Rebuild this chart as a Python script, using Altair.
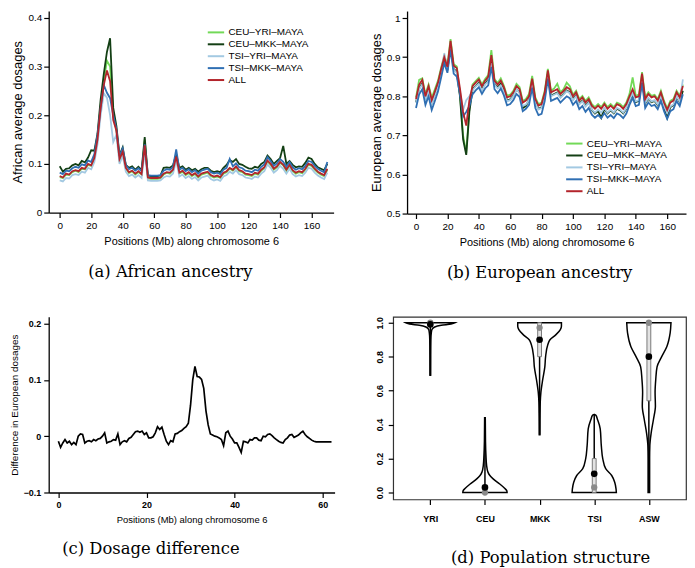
import altair as alt
import pandas as pd

# ---------------- data ----------------
SERIES = ["CEU–YRI–MAYA", "CEU–MKK–MAYA", "TSI–YRI–MAYA", "TSI–MKK–MAYA", "ALL"]
COLORS = ["#72d957", "#133f14", "#a3c9e2", "#2f6fb3", "#b3242b"]

POS_AB = list(range(0, 171, 2))

afr_ceu_yri = [0.073, 0.071, 0.078, 0.077, 0.083, 0.086, 0.083, 0.090, 0.089, 0.098,
               0.096, 0.110, 0.152, 0.220, 0.270, 0.312, 0.300, 0.200, 0.170, 0.108,
               0.122, 0.090, 0.081, 0.085, 0.078, 0.083, 0.078, 0.150, 0.070, 0.069,
               0.069, 0.069, 0.070, 0.078, 0.082, 0.080, 0.086, 0.112, 0.080, 0.084,
               0.077, 0.081, 0.075, 0.079, 0.072, 0.078, 0.080, 0.082, 0.075, 0.072,
               0.074, 0.071, 0.080, 0.083, 0.090, 0.086, 0.093, 0.085, 0.083, 0.078,
               0.077, 0.075, 0.080, 0.078, 0.086, 0.091, 0.105, 0.098, 0.088, 0.093,
               0.102, 0.097, 0.086, 0.096, 0.085, 0.080, 0.083, 0.081, 0.088, 0.098,
               0.096, 0.088, 0.082, 0.078, 0.075, 0.088]
afr_ceu_mkk = [0.095, 0.084, 0.090, 0.091, 0.097, 0.100, 0.097, 0.106, 0.103, 0.113,
               0.128, 0.127, 0.162, 0.232, 0.285, 0.330, 0.358, 0.215, 0.178, 0.118,
               0.134, 0.098, 0.092, 0.095, 0.088, 0.094, 0.087, 0.155, 0.076, 0.075,
               0.075, 0.075, 0.076, 0.092, 0.093, 0.092, 0.097, 0.120, 0.092, 0.095,
               0.088, 0.092, 0.087, 0.090, 0.084, 0.089, 0.092, 0.092, 0.086, 0.083,
               0.085, 0.083, 0.092, 0.098, 0.108, 0.104, 0.110, 0.100, 0.098, 0.094,
               0.091, 0.090, 0.094, 0.092, 0.100, 0.104, 0.117, 0.110, 0.100, 0.106,
               0.112, 0.137, 0.100, 0.106, 0.098, 0.093, 0.095, 0.094, 0.102, 0.113,
               0.110, 0.100, 0.093, 0.090, 0.087, 0.100]
afr_tsi_yri = [0.066, 0.064, 0.071, 0.070, 0.077, 0.079, 0.077, 0.084, 0.082, 0.092,
               0.089, 0.104, 0.140, 0.200, 0.245, 0.236, 0.200, 0.145, 0.160, 0.100,
               0.117, 0.084, 0.075, 0.078, 0.072, 0.077, 0.071, 0.125, 0.066, 0.065,
               0.065, 0.065, 0.066, 0.072, 0.075, 0.074, 0.080, 0.108, 0.074, 0.078,
               0.071, 0.075, 0.069, 0.073, 0.066, 0.072, 0.074, 0.076, 0.069, 0.066,
               0.068, 0.065, 0.074, 0.077, 0.084, 0.080, 0.087, 0.079, 0.077, 0.072,
               0.071, 0.069, 0.074, 0.072, 0.080, 0.085, 0.099, 0.092, 0.082, 0.087,
               0.096, 0.090, 0.080, 0.090, 0.079, 0.074, 0.077, 0.075, 0.082, 0.092,
               0.090, 0.082, 0.076, 0.072, 0.069, 0.082]
afr_tsi_mkk = [0.082, 0.079, 0.086, 0.085, 0.091, 0.094, 0.092, 0.099, 0.097, 0.107,
               0.104, 0.120, 0.160, 0.215, 0.262, 0.246, 0.235, 0.200, 0.172, 0.116,
               0.132, 0.098, 0.089, 0.092, 0.086, 0.091, 0.085, 0.140, 0.077, 0.076,
               0.076, 0.076, 0.077, 0.086, 0.089, 0.088, 0.094, 0.130, 0.088, 0.092,
               0.085, 0.089, 0.083, 0.087, 0.080, 0.086, 0.088, 0.090, 0.083, 0.080,
               0.082, 0.079, 0.088, 0.092, 0.110, 0.095, 0.101, 0.093, 0.091, 0.086,
               0.085, 0.083, 0.088, 0.086, 0.094, 0.099, 0.114, 0.106, 0.096, 0.101,
               0.110, 0.104, 0.094, 0.104, 0.093, 0.088, 0.091, 0.089, 0.096, 0.106,
               0.104, 0.096, 0.090, 0.086, 0.083, 0.104]
afr_all = [0.075, 0.072, 0.080, 0.078, 0.085, 0.087, 0.085, 0.092, 0.090, 0.100,
           0.097, 0.112, 0.150, 0.215, 0.262, 0.292, 0.270, 0.190, 0.168, 0.110,
           0.125, 0.092, 0.083, 0.086, 0.080, 0.085, 0.079, 0.138, 0.072, 0.071,
           0.071, 0.071, 0.072, 0.080, 0.083, 0.082, 0.088, 0.115, 0.082, 0.086,
           0.079, 0.083, 0.077, 0.081, 0.074, 0.080, 0.082, 0.084, 0.077, 0.074,
           0.076, 0.073, 0.082, 0.085, 0.092, 0.088, 0.095, 0.087, 0.085, 0.080,
           0.079, 0.077, 0.082, 0.080, 0.088, 0.093, 0.107, 0.100, 0.090, 0.095,
           0.104, 0.098, 0.088, 0.098, 0.087, 0.082, 0.085, 0.083, 0.090, 0.100,
           0.098, 0.090, 0.084, 0.080, 0.077, 0.090]

eur_ceu_yri = [0.797, 0.842, 0.846, 0.805, 0.830, 0.796, 0.818, 0.840, 0.873, 0.904,
               0.879, 0.946, 0.882, 0.876, 0.805, 0.700, 0.655, 0.770, 0.830, 0.839,
               0.847, 0.830, 0.844, 0.854, 0.918, 0.844, 0.834, 0.846, 0.827, 0.801,
               0.804, 0.814, 0.832, 0.823, 0.788, 0.793, 0.806, 0.852, 0.797, 0.780,
               0.784, 0.814, 0.870, 0.814, 0.820, 0.832, 0.810, 0.818, 0.835, 0.826,
               0.804, 0.814, 0.793, 0.801, 0.788, 0.797, 0.780, 0.772, 0.780, 0.772,
               0.784, 0.772, 0.780, 0.772, 0.784, 0.780, 0.772, 0.784, 0.806, 0.848,
               0.801, 0.804, 0.862, 0.797, 0.810, 0.801, 0.804, 0.793, 0.814, 0.788,
               0.769, 0.788, 0.793, 0.814, 0.801, 0.830]
eur_ceu_mkk = [0.785, 0.820, 0.833, 0.792, 0.818, 0.782, 0.804, 0.826, 0.860, 0.892,
               0.866, 0.930, 0.870, 0.862, 0.800, 0.690, 0.650, 0.760, 0.818, 0.826,
               0.835, 0.818, 0.832, 0.842, 0.895, 0.832, 0.822, 0.832, 0.815, 0.789,
               0.792, 0.802, 0.818, 0.810, 0.770, 0.775, 0.792, 0.837, 0.785, 0.768,
               0.772, 0.802, 0.858, 0.802, 0.806, 0.810, 0.798, 0.806, 0.815, 0.810,
               0.792, 0.802, 0.781, 0.789, 0.776, 0.785, 0.765, 0.756, 0.762, 0.745,
               0.768, 0.756, 0.764, 0.756, 0.768, 0.764, 0.756, 0.768, 0.788, 0.806,
               0.785, 0.788, 0.846, 0.781, 0.794, 0.785, 0.788, 0.777, 0.798, 0.768,
               0.745, 0.772, 0.777, 0.798, 0.785, 0.814]
eur_tsi_yri = [0.783, 0.818, 0.830, 0.790, 0.815, 0.780, 0.802, 0.825, 0.858, 0.910,
               0.868, 0.925, 0.868, 0.860, 0.812, 0.765, 0.790, 0.800, 0.815, 0.825,
               0.832, 0.815, 0.830, 0.838, 0.885, 0.830, 0.820, 0.828, 0.812, 0.787,
               0.790, 0.800, 0.818, 0.808, 0.775, 0.779, 0.790, 0.835, 0.783, 0.766,
               0.770, 0.800, 0.856, 0.800, 0.804, 0.808, 0.796, 0.804, 0.813, 0.808,
               0.790, 0.800, 0.779, 0.787, 0.774, 0.783, 0.766, 0.758, 0.766, 0.758,
               0.770, 0.758, 0.766, 0.758, 0.770, 0.766, 0.758, 0.770, 0.790, 0.808,
               0.787, 0.790, 0.845, 0.783, 0.796, 0.787, 0.790, 0.779, 0.800, 0.774,
               0.758, 0.774, 0.779, 0.800, 0.787, 0.843]
eur_tsi_mkk = [0.770, 0.805, 0.818, 0.778, 0.800, 0.765, 0.788, 0.812, 0.848, 0.885,
               0.860, 0.920, 0.858, 0.850, 0.805, 0.748, 0.760, 0.775, 0.805, 0.815,
               0.823, 0.806, 0.820, 0.828, 0.875, 0.818, 0.808, 0.820, 0.802, 0.777,
               0.780, 0.790, 0.806, 0.798, 0.762, 0.768, 0.778, 0.822, 0.770, 0.752,
               0.755, 0.788, 0.845, 0.788, 0.792, 0.796, 0.784, 0.792, 0.800, 0.795,
               0.778, 0.788, 0.767, 0.775, 0.760, 0.770, 0.753, 0.745, 0.752, 0.744,
               0.757, 0.745, 0.752, 0.744, 0.756, 0.752, 0.744, 0.756, 0.778, 0.796,
               0.775, 0.778, 0.835, 0.770, 0.784, 0.775, 0.778, 0.767, 0.788, 0.762,
               0.742, 0.762, 0.767, 0.788, 0.775, 0.805]
eur_all = [0.793, 0.830, 0.842, 0.800, 0.826, 0.790, 0.812, 0.835, 0.869, 0.900,
           0.875, 0.942, 0.878, 0.872, 0.820, 0.760, 0.725, 0.790, 0.826, 0.835,
           0.843, 0.826, 0.840, 0.850, 0.905, 0.840, 0.830, 0.840, 0.823, 0.797,
           0.800, 0.810, 0.826, 0.818, 0.784, 0.789, 0.800, 0.845, 0.793, 0.776,
           0.780, 0.810, 0.866, 0.810, 0.814, 0.818, 0.806, 0.814, 0.823, 0.818,
           0.800, 0.810, 0.789, 0.797, 0.784, 0.793, 0.776, 0.768, 0.776, 0.768,
           0.780, 0.768, 0.776, 0.768, 0.780, 0.776, 0.768, 0.780, 0.800, 0.818,
           0.797, 0.800, 0.858, 0.793, 0.806, 0.797, 0.800, 0.789, 0.810, 0.784,
           0.765, 0.784, 0.789, 0.810, 0.797, 0.826]

POS_DIFF = [i * 0.5 for i in range(125)]
diff_values = [-0.009, -0.020, -0.012, -0.006, -0.012, -0.009, -0.015, -0.011, -0.015, 0.000,
               0.004, 0.003, -0.012, -0.009, -0.008, -0.010, -0.006, -0.008, -0.005, -0.004,
               0.000, 0.006, -0.012, -0.010, -0.009, -0.006, -0.007, 0.004, -0.015, -0.010,
               -0.008, -0.010, -0.004, -0.002, 0.003, 0.008, 0.009, 0.007, 0.009, 0.003,
               0.006, -0.003, -0.003, -0.001, 0.006, 0.017, 0.012, 0.016, 0.003, -0.009,
               -0.015, -0.008, -0.010, 0.004, 0.005, 0.008, 0.010, 0.014, 0.017, 0.023,
               0.055, 0.100, 0.124, 0.106, 0.105, 0.101, 0.085, 0.045, 0.020, 0.004,
               0.002, 0.000, -0.001, -0.003, -0.006, -0.017, 0.006, 0.009, 0.000, -0.005,
               -0.012, -0.012, -0.020, -0.029, -0.009, -0.010, -0.012, -0.006, -0.007, -0.003,
               -0.003, -0.007, -0.008, 0.000, -0.001, 0.003, 0.004, 0.001, -0.003, -0.006,
               -0.009, -0.011, -0.012, -0.006, -0.003, 0.002, 0.003, -0.002, 0.000, 0.002,
               0.006, 0.009, 0.003, -0.001, -0.004, -0.007, -0.009, -0.010, -0.010, -0.010,
               -0.010, -0.010, -0.010, -0.010, -0.010]

POPS = ["YRI", "CEU", "MKK", "TSI", "ASW"]
violin_y = {
    "YRI": [0.69, 0.80, 0.90, 0.94, 0.96, 0.975, 0.985, 0.992, 1.0],
    "CEU": [0.0, 0.01, 0.025, 0.05, 0.08, 0.10, 0.12, 0.16, 0.22, 0.30, 0.44],
    "MKK": [0.34, 0.45, 0.53, 0.59, 0.665, 0.74, 0.80, 0.87, 0.90, 0.93, 0.96, 0.98, 1.0],
    "TSI": [0.0, 0.02, 0.06, 0.10, 0.14, 0.20, 0.275, 0.375, 0.43, 0.455, 0.46],
    "ASW": [0.0, 0.10, 0.20, 0.275, 0.35, 0.43, 0.51, 0.59, 0.665, 0.74, 0.80, 0.86, 0.94, 1.0],
}
violin_halfwidth = {
    "YRI": [0.006, 0.007, 0.010, 0.018, 0.030, 0.080, 0.200, 0.380, 0.456],
    "CEU": [0.405, 0.400, 0.360, 0.270, 0.150, 0.090, 0.055, 0.030, 0.018, 0.010, 0.006],
    "MKK": [0.006, 0.008, 0.012, 0.024, 0.057, 0.096, 0.110, 0.150, 0.190, 0.300, 0.380, 0.400, 0.400],
    "TSI": [0.405, 0.400, 0.375, 0.320, 0.210, 0.156, 0.130, 0.110, 0.060, 0.030, 0.0],
    "ASW": [0.014, 0.014, 0.014, 0.018, 0.042, 0.084, 0.120, 0.114, 0.126, 0.150, 0.235, 0.330, 0.390, 0.405],
}
whisker_lo = [0.69, 0.0, 0.34, 0.0, 0.0]
whisker_hi = [1.0, 0.44, 1.0, 0.46, 1.0]
box_pops = ["MKK", "TSI", "ASW"]
box_lo = [0.80, 0.0, 0.54]
box_hi = [1.0, 0.20, 1.0]
pop_mean = [0.99, 0.03, 0.90, 0.11, 0.80]
pop_median = [1.0, 0.0, 0.97, 0.03, 1.0]

# ---------------- tables ----------------
def long_table(lists):
    rows = []
    for s, vals in zip(SERIES, lists):
        for p, v in zip(POS_AB, vals):
            rows.append({"pos": p, "value": v, "series": s})
    return pd.DataFrame(rows)

afr_df = long_table([afr_ceu_yri, afr_ceu_mkk, afr_tsi_yri, afr_tsi_mkk, afr_all])
eur_df = long_table([eur_ceu_yri, eur_ceu_mkk, eur_tsi_yri, eur_tsi_mkk, eur_all])
diff_df = pd.DataFrame({"pos": POS_DIFF, "value": diff_values})

vrows = []
for i, p in enumerate(POPS):
    for y, hw in zip(violin_y[p], violin_halfwidth[p]):
        vrows.append({"pop": p, "idx": i + 1, "y": y, "hw": hw})
violin_df = pd.DataFrame(vrows)
stat_df = pd.DataFrame({"pop": POPS, "idx": [1, 2, 3, 4, 5], "lo": whisker_lo, "hi": whisker_hi,
                        "mean": pop_mean, "median": pop_median})
box_df = pd.DataFrame({"pop": box_pops, "idx": [POPS.index(p) + 1 for p in box_pops],
                       "lo": box_lo, "hi": box_hi})

SANS = "Liberation Sans"
SERIF = "DejaVu Serif"


def caption(text, dx, offset):
    return alt.TitleParams(text=text, orient="bottom", anchor="middle", font=SERIF, fontSize=16.5,
                           fontWeight="normal", color="black", dx=dx, offset=offset)


def line_panel(df, xdomain, ydomain, yvalues, ytitle, width, height, lx, ly, cap, capdx):
    legend = alt.Legend(orient="none", legendX=lx, legendY=ly, title=None,
                        symbolType="M-1.5,0L1.5,0", symbolSize=121, symbolStrokeWidth=2,
                        labelFont=SANS, labelFontSize=10, labelColor="black",
                        rowPadding=0, labelOffset=6, padding=0)
    xenc = alt.X("pos:Q", scale=alt.Scale(domain=xdomain, nice=False, zero=False),
                 axis=alt.Axis(values=list(range(0, 161, 20)), title="Positions (Mb) along chromosome 6",
                               titleFontSize=11, labelFontSize=10, labelPadding=3, titlePadding=5, tickSize=5))
    yenc = alt.Y("value:Q", scale=alt.Scale(domain=ydomain, nice=False, zero=False),
                 axis=alt.Axis(values=yvalues, format="~g", title=ytitle, titleFontSize=13,
                               labelFontSize=10, labelPadding=2, titlePadding=3, tickSize=5))
    layers = []
    for s in SERIES:
        layers.append(
            alt.Chart(df).transform_filter(alt.datum.series == s).mark_line(strokeWidth=1.8).encode(
                x=xenc, y=yenc,
                color=alt.Color("series:N", scale=alt.Scale(domain=SERIES, range=COLORS), legend=legend),
            )
        )
    return alt.layer(*layers).properties(width=width, height=height, title=caption(cap, capdx, 18))


panel_a = line_panel(afr_df, [-7, 174], [0, 0.414], [0, 0.1, 0.2, 0.3, 0.4], "African average dosages",
                     287, 203, 162, 15, "(a) African ancestry", -21)
panel_b = line_panel(eur_df, [-5.7, 172], [0.5, 1.018], [0.5, 0.6, 0.7, 0.8, 0.9, 1.0],
                     "European average dosages", 281, 204, 162, 127, "(b) European ancestry", -7)

panel_c = alt.Chart(diff_df).mark_line(color="black", strokeWidth=1.7).encode(
    x=alt.X("pos:Q", scale=alt.Scale(domain=[-2.2, 62.7], nice=False, zero=False),
            axis=alt.Axis(values=[0, 20, 40, 60], title="Positions (Mb) along chromosome 6",
                          titleFontSize=9.5, labelFontSize=9, labelFontWeight="bold",
                          labelPadding=3, titlePadding=5, tickSize=5)),
    y=alt.Y("value:Q", scale=alt.Scale(domain=[-0.1, 0.212], nice=False, zero=False),
            axis=alt.Axis(values=[-0.1, 0, 0.1, 0.2], format="~g", title="Difference in European dosages",
                          titleFontSize=10, labelFontSize=9, labelFontWeight="bold",
                          labelPadding=3, titlePadding=4, tickSize=5)),
).properties(width=288, height=177, title=caption("(c) Dosage difference", -41, 17))

label_expr = "[" + ",".join("'" + p + "'" for p in POPS) + "][datum.value - 1]"
dx_scale = alt.Scale(domain=[0.32, 5.68], nice=False, zero=False)
dy_scale = alt.Scale(domain=[-0.041, 1.035], nice=False, zero=False)
x_axis_d = alt.Axis(values=[1, 2, 3, 4, 5], labelExpr=label_expr, title=None, domain=False,
                    labelFontSize=9, labelFontWeight="bold", labelPadding=10, tickSize=5)
y_axis_d = alt.Axis(values=[0, 0.2, 0.4, 0.6, 0.8, 1.0], format=".1f", title=None, domain=False,
                    labelAngle=-90, labelAlign="center", labelBaseline="bottom", labelOverlap=False,
                    labelFontSize=9, labelFontWeight="bold", labelPadding=4, tickSize=5)


def dx_enc(field):
    return alt.X(field, scale=dx_scale, axis=x_axis_d, title=None)


def dy_enc(field):
    return alt.Y(field, scale=dy_scale, axis=y_axis_d, title=None)


violins = alt.Chart(violin_df).transform_calculate(
    left="datum.idx - datum.hw", right="datum.idx + datum.hw"
).mark_area(orient="horizontal", fill="white", stroke="black", strokeWidth=1.5,
            interpolate="monotone").encode(
    y=dy_enc("y:Q"),
    x=dx_enc("left:Q"),
    x2="right:Q",
    detail="pop:N",
)
whiskers = alt.Chart(stat_df).mark_rule(color="black", strokeWidth=1.5).encode(
    x=dx_enc("idx:Q"), y=dy_enc("lo:Q"), y2="hi:Q")
boxes = alt.Chart(box_df).transform_calculate(
    bl="datum.idx - 0.035", br="datum.idx + 0.035"
).mark_rect(fill="#e2e2e2", stroke="#7a7a7a", strokeWidth=1).encode(
    x=dx_enc("bl:Q"), x2="br:Q", y=dy_enc("lo:Q"), y2="hi:Q")
medians = alt.Chart(stat_df).mark_point(filled=True, color="#8a8a8a", size=40, opacity=1).encode(
    x=dx_enc("idx:Q"), y=dy_enc("median:Q"))
means = alt.Chart(stat_df).mark_point(filled=True, color="black", size=45, opacity=1).encode(
    x=dx_enc("idx:Q"), y=dy_enc("mean:Q"))

panel_d = alt.layer(violins, whiskers, boxes, medians, means).properties(
    width=295, height=184, title=caption("(d) Population structure", 11, 27),
    view=alt.ViewBackground(stroke="#333333", strokeWidth=1.2),
)

row1 = alt.hconcat(panel_a, panel_b, spacing=35).resolve_scale(color="independent")
row2 = alt.hconcat(panel_c, panel_d, spacing=39)

chart = alt.vconcat(row1, row2, spacing=34).properties(
    padding={"left": 0, "top": 0, "right": 0, "bottom": 0}
).configure_view(stroke="transparent").configure_axis(
    labelFont=SANS, titleFont=SANS, labelColor="black", titleColor="black",
    titleFontWeight="normal", domainColor="black", tickColor="black",
    domainWidth=1.3, tickWidth=1.2, grid=False,
).configure_title(font=SERIF)

chart.save("out.html", embed_options={"renderer": "svg", "actions": False})
